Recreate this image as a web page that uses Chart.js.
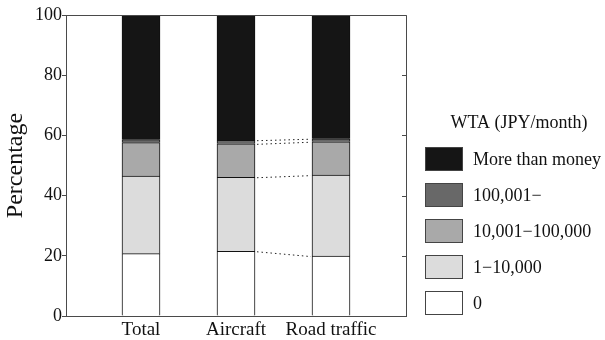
<!DOCTYPE html>
<html>
<head>
<meta charset="utf-8">
<script src="https://cdn.jsdelivr.net/npm/chart.js@4.4.1/dist/chart.umd.min.js"></script>
<style>
  html, body { margin: 0; padding: 0; background: #fff; }
  #wrap { width: 605px; height: 340px; }
</style>
</head>
<body>
<div id="wrap"><canvas id="c" width="605" height="340"></canvas></div>
<script>
// Categories and stacked shares (percent), bottom segment first
const CATEGORIES = ['Total', 'Aircraft', 'Road traffic'];
const SERIES_LABELS = ['0', '1\u221210,000', '10,001\u2212100,000', '100,001\u2212', 'More than money'];
const ZERO = [20.7, 21.5, 19.9];
const UP_TO_10K = [25.8, 24.6, 26.9];
const UP_TO_100K = [11.1, 11.1, 11.1];
const OVER_100K = [1.0, 1.2, 1.0];
const MORE_THAN_MONEY = [41.4, 41.6, 41.1];
const Y_TICKS = [0, 20, 40, 60, 80, 100];
const LEGEND_TITLE = 'WTA (JPY/month)';

const SERIES_VALUES = [ZERO, UP_TO_10K, UP_TO_100K, OVER_100K, MORE_THAN_MONEY];
const FILLS = ['#ffffff', '#dcdcdc', '#a9a9a9', '#686868', '#151515'];
const SERIF = '"Liberation Serif", "Times New Roman", serif';
const AXIS_COLOR = '#4a4a4a';

const datasets = SERIES_VALUES.map((vals, i) => ({
  label: SERIES_LABELS[i],
  data: vals.map((v, j) => ({ x: j + 1, y: v })),
  backgroundColor: FILLS[i],
  borderColor: '#111',
  borderWidth: 1,
  barThickness: 38
}));

// Top and right frame lines, with inward ticks on the right side
const framePlugin = {
  id: 'frame',
  afterDatasetsDraw(chart) {
    const { ctx, chartArea: a } = chart;
    const ys = chart.scales.y;
    ctx.save();
    ctx.strokeStyle = AXIS_COLOR;
    ctx.lineWidth = 1;
    ctx.beginPath();
    ctx.moveTo(a.left, a.top + 0.5);
    ctx.lineTo(a.right + 0.5, a.top + 0.5);
    ctx.lineTo(a.right + 0.5, a.bottom);
    Y_TICKS.forEach(t => {
      const y = Math.round(ys.getPixelForValue(t)) + 0.5;
      ctx.moveTo(a.right + 0.5, y);
      ctx.lineTo(a.right - 4, y);
    });
    ctx.stroke();
    ctx.restore();
  }
};

// Dotted links between the segment boundaries of Aircraft and Road traffic
const linkPlugin = {
  id: 'links',
  afterDatasetsDraw(chart) {
    const ctx = chart.ctx;
    ctx.save();
    ctx.strokeStyle = '#222';
    ctx.lineWidth = 1;
    ctx.setLineDash([1.5, 3]);
    for (let d = 0; d < 4; d++) {
      const els = chart.getDatasetMeta(d).data;
      const a = els[1], b = els[2];
      ctx.beginPath();
      ctx.moveTo(a.x + a.width / 2 + 2, a.y + 0.5);
      ctx.lineTo(b.x - b.width / 2 - 1, b.y + 0.5);
      ctx.stroke();
    }
    ctx.restore();
  }
};

// Legend at the right: title, then swatches from the top segment down
const legendPlugin = {
  id: 'sideLegend',
  afterDraw(chart) {
    const { ctx, chartArea: a } = chart;
    const boxX = a.right + 19;
    const firstTop = a.top + 132;
    ctx.save();
    ctx.font = '18px ' + SERIF;
    ctx.fillStyle = '#111';
    ctx.textBaseline = 'middle';
    ctx.textAlign = 'center';
    ctx.fillText(LEGEND_TITLE, boxX + 94, a.top + 108);
    ctx.textAlign = 'left';
    const ds = chart.data.datasets.slice().reverse();
    ds.forEach((d, i) => {
      const top = firstTop + i * 36;
      ctx.fillStyle = d.backgroundColor;
      ctx.fillRect(boxX, top, 38, 24);
      ctx.strokeStyle = '#444';
      ctx.lineWidth = 1;
      ctx.strokeRect(boxX + 0.5, top + 0.5, 37, 23);
      ctx.fillStyle = '#111';
      ctx.fillText(d.label, boxX + 48, top + 13);
    });
    ctx.restore();
  }
};

new Chart(document.getElementById('c'), {
  type: 'bar',
  data: { datasets },
  options: {
    responsive: false,
    devicePixelRatio: 1,
    animation: false,
    layout: { padding: { left: 0, right: 199, top: 15, bottom: 0 } },
    plugins: {
      legend: { display: false },
      tooltip: { enabled: false }
    },
    scales: {
      x: {
        type: 'linear',
        min: 1 - 75 / 95,
        max: 1 - 75 / 95 + 340 / 95,
        offset: false,
        stacked: true,
        afterBuildTicks: s => { s.ticks = CATEGORIES.map((_, i) => ({ value: i + 1 })); },
        afterFit: s => { s.height = 24; },
        grid: { display: false, drawTicks: false, offset: false },
        border: { display: true, color: AXIS_COLOR },
        ticks: {
          autoSkip: false,
          maxRotation: 0,
          padding: 3,
          color: '#111',
          font: { family: SERIF, size: 19 },
          callback: v => CATEGORIES[Math.round(v) - 1] || ''
        }
      },
      y: {
        min: 0,
        max: 100,
        stacked: true,
        afterBuildTicks: s => { s.ticks = Y_TICKS.map(v => ({ value: v })); },
        afterFit: s => { s.width = 66; },
        grid: { drawOnChartArea: false, drawTicks: true, tickLength: 4, color: AXIS_COLOR },
        border: { display: true, color: AXIS_COLOR },
        ticks: {
          padding: 0,
          color: '#111',
          font: { family: SERIF, size: 18 }
        },
        title: {
          display: true,
          text: 'Percentage',
          color: '#111',
          font: { family: SERIF, size: 24 },
          padding: { top: 1, bottom: 0 }
        }
      }
    }
  },
  plugins: [framePlugin, linkPlugin, legendPlugin]
});
</script>
</body>
</html>
